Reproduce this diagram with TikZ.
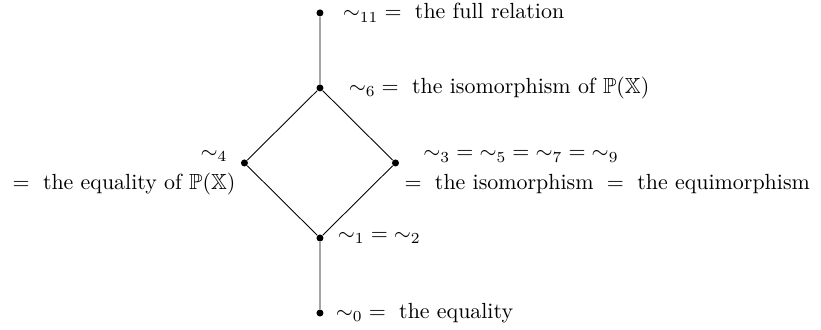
\documentclass[tikz,border=0pt]{standalone}
\usepackage{amsmath,amssymb}
\usetikzlibrary{positioning}

\begin{document}
\begin{tikzpicture}[
    x=1.211cm, y=1.203cm,
    dot/.style={circle, fill=black, inner sep=0pt, minimum size=3.2pt},
    rel/.style={inner sep=3.33pt}
]
\useasboundingbox (-5.131cm,-0.257cm) rectangle (8.034cm,5.019cm);

% the lattice of relations
\node[dot] (r0) at (0,0) {};
\node[dot] (r1) at (0,1) {};
\node[dot] (r4) at (-1,2) {};
\node[dot] (r3) at (1,2) {};
\node[dot] (r6) at (0,3) {};
\node[dot] (r11) at (0,4) {};

\draw (r0) -- (r1) -- (r4) -- (r6) -- (r11);
\draw (r1) -- (r3) -- (r6);

% labels
\node[rel, right=5.1pt of r11] (l11) {${\sim}_{11} = \text{ the full relation}$};
\node[rel, right=7.8pt of r6] (l6) {${\sim}_6 = \text{ the isomorphism of } \mathbb{P}(\mathbb{X})$};
\node[rel, align=right, left=-1.2pt of r4, yshift=-4.3pt] (l4) {%
    ${\sim}_4$\rule{3.6pt}{0pt}\\[2pt]
    $= \text{ the equality of } \mathbb{P}(\mathbb{X})$};
\node[rel, align=left, right=-1.2pt of r3, yshift=-4.3pt] (l3) {%
    \rule{8.6pt}{0pt}${\sim}_3 = {\sim}_5 = {\sim}_7 = {\sim}_9$\\[2pt]
    $= \text{ the isomorphism } = \text{ the equimorphism}$};
\node[rel, right=2.8pt of r1] (l1) {${\sim}_1 = {\sim}_2$};
\node[rel, right=1.9pt of r0] (l0) {${\sim}_0 = \text{ the equality}$};

\end{tikzpicture}
\end{document}
